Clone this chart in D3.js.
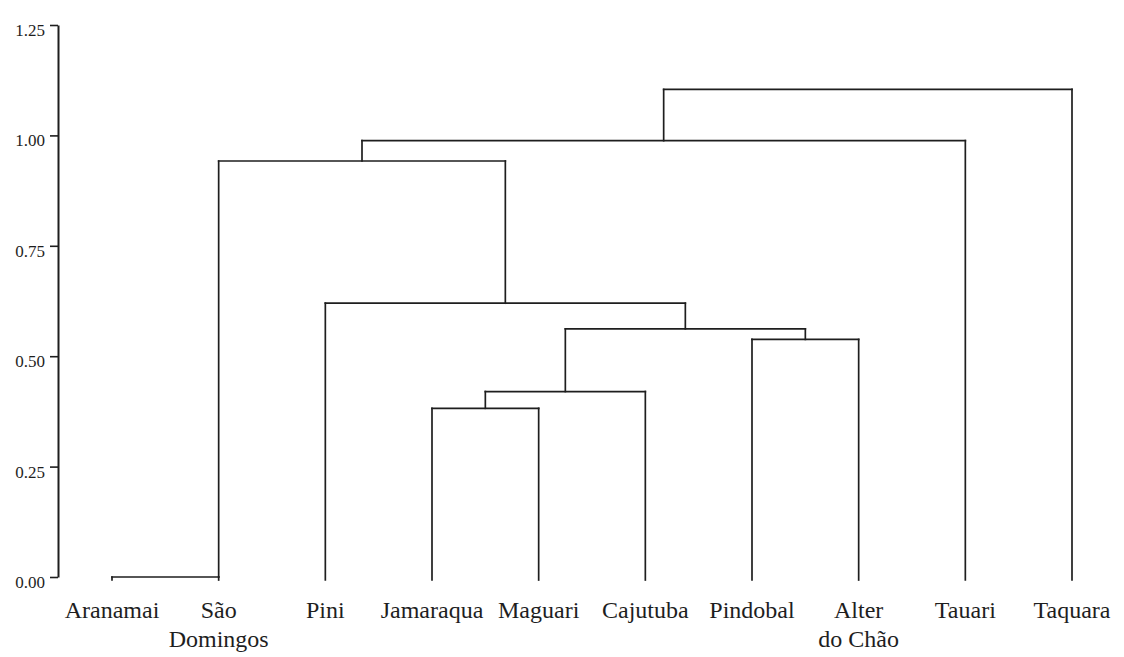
<!DOCTYPE html>
<html>
<head>
<meta charset="utf-8">
<script src="https://cdn.jsdelivr.net/npm/d3@7/dist/d3.min.js"></script>
<style>
  html, body { margin: 0; padding: 0; background: #ffffff; }
  svg { display: block; }
  text { font-family: "Liberation Serif", "Times New Roman", serif; fill: #1e1e1e; }
</style>
</head>
<body>
<svg id="chart" width="1124" height="657"></svg>
<script>
// Localities (leaf order along the x axis); "\n" splits a label over two lines
const leaves = [
  "Aranamai", "São\nDomingos", "Pini", "Jamaraqua", "Maguari",
  "Cajutuba", "Pindobal", "Alter\ndo Chão", "Tauari", "Taquara"
];

// Agglomeration steps: [left cluster, right cluster]; leaves are 0..9,
// each merge creates cluster 10, 11, ... in order
const mergePairs = [
  [0, 1], [3, 4], [11, 5], [6, 7], [12, 13],
  [2, 14], [10, 15], [16, 8], [17, 9]
];

// Linkage distance of each merge
const mergeHeights = [0.00, 0.382, 0.420, 0.538, 0.562, 0.620, 0.942, 0.988, 1.104];

// Distance axis ticks
const yTicks = [0.00, 0.25, 0.50, 0.75, 1.00, 1.25];

const svg = d3.select("#chart");
const ink = "#1e1e1e";

const x = d3.scalePoint()
  .domain(d3.range(leaves.length))
  .range([112, 1072]);

const y = d3.scaleLinear()
  .domain([0, 1.25])
  .range([577, 25]);

// Y axis
const yAxis = d3.axisLeft(y)
  .tickValues(yTicks)
  .tickFormat(d3.format(".2f"))
  .tickSize(8)
  .tickSizeOuter(0);

const gy = svg.append("g")
  .attr("transform", "translate(58,0)")
  .call(yAxis);
gy.select(".domain").attr("stroke", ink).attr("stroke-width", 2);
gy.selectAll(".tick line").attr("stroke", ink).attr("stroke-width", 1.6);
gy.selectAll(".tick text")
  .attr("x", -13)
  .attr("dy", "0.62em")
  .style("font-family", "'Liberation Serif', serif")
  .style("font-size", "17px")
  .attr("fill", ink);

// Cluster positions: leaves sit on the point scale, merged clusters sit
// midway between their children (a zero-distance merge stays on its right child)
const nodeX = leaves.map((_, i) => x(i));
const nodeH = leaves.map(() => null);
const leafBottom = y(0) + 3;
const nodeY = i => nodeH[i] === null ? leafBottom : y(nodeH[i]);

const segments = [];
mergePairs.forEach(([a, b], k) => {
  const h = mergeHeights[k];
  const yy = y(h);
  segments.push([nodeX[a], nodeY(a), nodeX[a], yy]);
  segments.push([nodeX[b], nodeY(b), nodeX[b], yy]);
  segments.push([nodeX[a], yy, nodeX[b], yy]);
  nodeX.push(h === 0 ? nodeX[b] : (nodeX[a] + nodeX[b]) / 2);
  nodeH.push(h);
});

svg.append("g")
  .selectAll("line")
  .data(segments)
  .join("line")
  .attr("x1", d => d[0]).attr("y1", d => d[1])
  .attr("x2", d => d[2]).attr("y2", d => d[3])
  .attr("stroke", ink)
  .attr("stroke-width", 1.7)
  .attr("stroke-linecap", "square");

// Leaf labels
const labels = svg.append("g")
  .selectAll("text")
  .data(leaves)
  .join("text")
  .attr("text-anchor", "middle")
  .attr("x", (d, i) => x(i))
  .attr("y", 618)
  .style("font-size", "24px");

labels.selectAll("tspan")
  .data(d => d.split("\n"))
  .join("tspan")
  .attr("x", function () { return d3.select(this.parentNode).attr("x"); })
  .attr("dy", (d, i) => i === 0 ? 0 : 29)
  .text(d => d);
</script>
</body>
</html>
